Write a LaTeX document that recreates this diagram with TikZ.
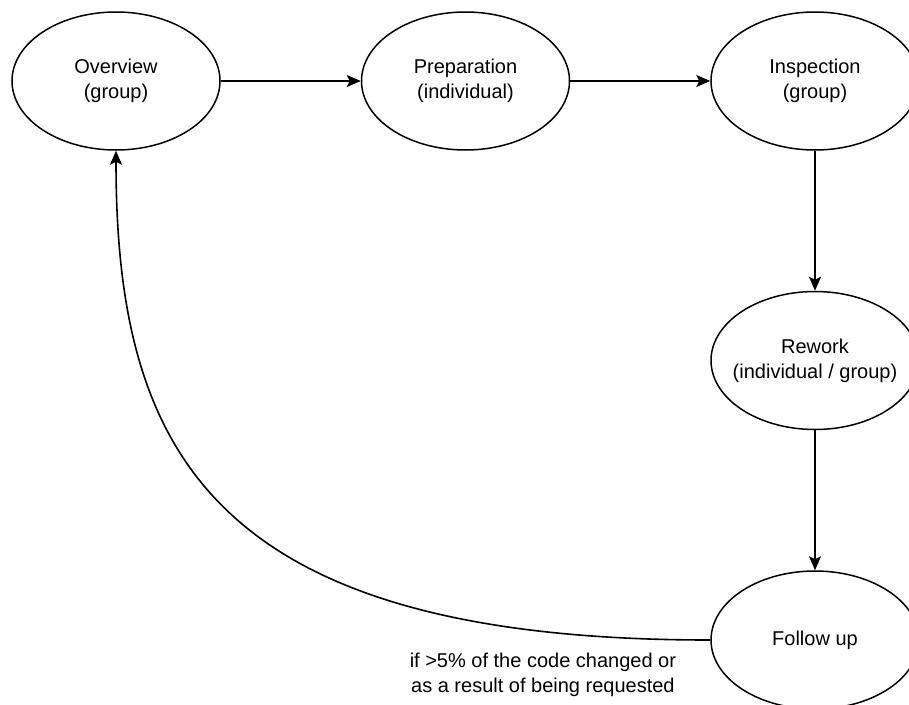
\documentclass[tikz,border=0pt]{standalone}
\usepackage{fontspec}
\setmainfont{Liberation Sans}
\usepackage{tikz}
\usetikzlibrary{shapes.geometric, arrows.meta, positioning}

\begin{document}
\begin{tikzpicture}[
  x=1pt, y=1pt,
  node distance = 140pt,
  phase/.style = {ellipse, draw=black, line width=1.5pt,
                  minimum width=208pt, minimum height=138pt, inner sep=0pt,
                  font=\fontsize{20}{25}\selectfont, align=center},
  arr/.style   = {-{Stealth[length=14pt, width=12pt, inset=3pt]}, line width=1.6pt},
  lbl/.style   = {font=\fontsize{20}{25}\selectfont, align=center, inner sep=0pt},
]
\useasboundingbox (0,0) rectangle (909,-704);

% ── Top row ───────────────────────────────────────────────────────────────────
\node[phase] (overview) at (116,-81) {Overview\\(group)};

\node[phase, right=of overview] (preparation) {Preparation\\(individual)};

\node[phase, right=of preparation] (inspection) {Inspection\\(group)};

% ── Right column ──────────────────────────────────────────────────────────────
\node[phase, below=of inspection, inner xsep=-10pt] (rework) {Rework\\(individual / group)};

\node[phase, below=of rework] (followup) {Follow up};

% ── Arrows ────────────────────────────────────────────────────────────────────
\draw[arr] (overview)    -- (preparation);
\draw[arr] (preparation) -- (inspection);
\draw[arr] (inspection)  -- (rework);
\draw[arr] (rework)      -- (followup);

% ── Loop back: follow up → overview ───────────────────────────────────────────
\draw[arr] (followup.west) .. controls +(-500,0) and +(0,-300) .. (overview.south);

\node[lbl, below left=13pt and 34pt of followup.west]
  {if >5\% of the code changed or\\as a result of being requested};

\end{tikzpicture}
\end{document}
